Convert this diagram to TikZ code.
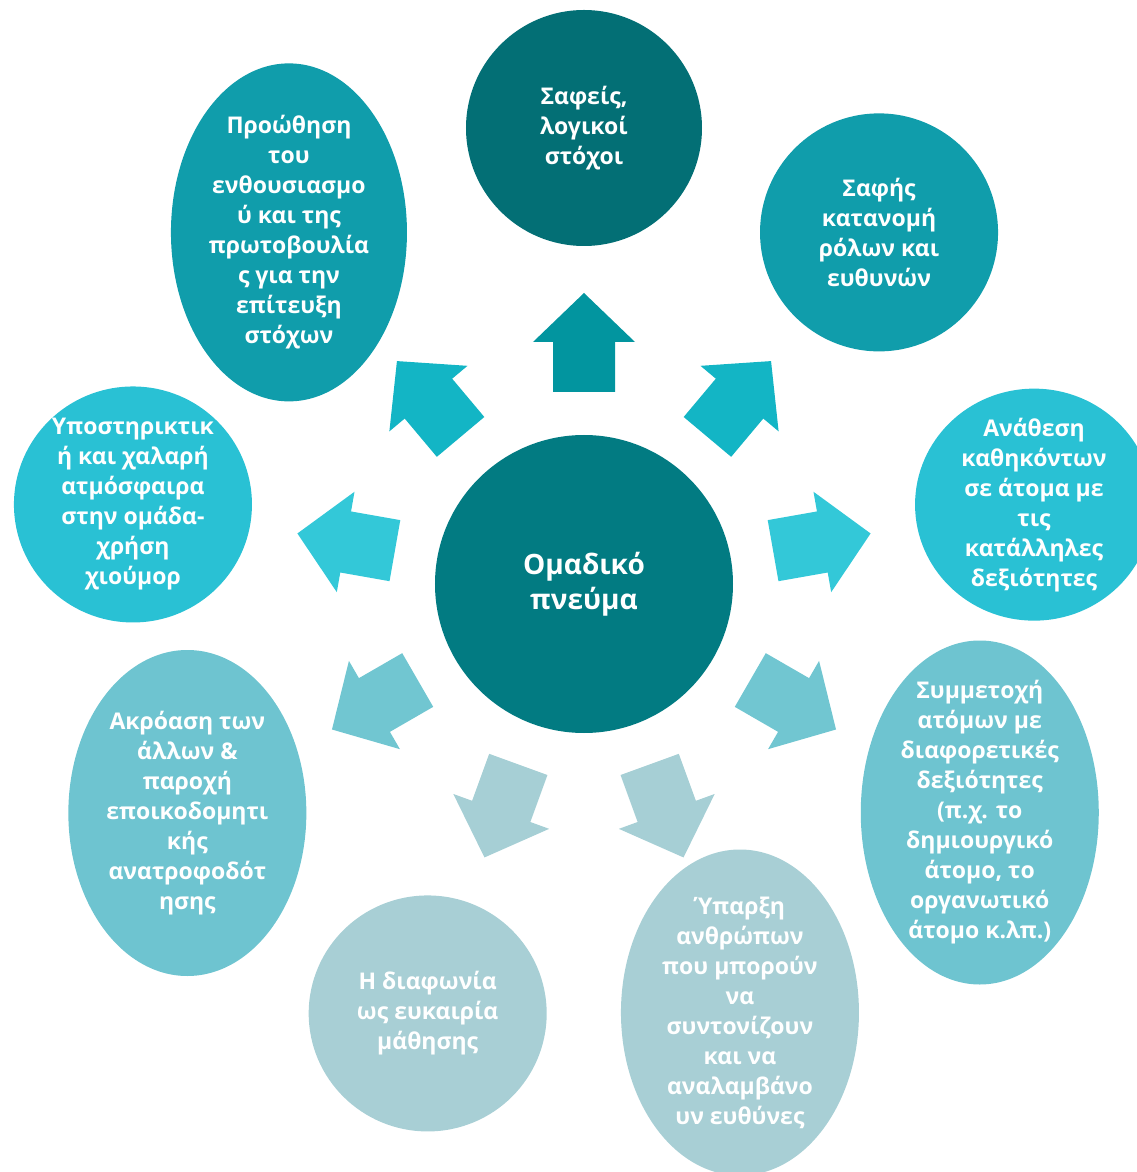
\documentclass[tikz,border=0pt]{standalone}
\usepackage{fontspec}
\setmainfont{Open Sans}
\usepackage{tikz}
\usepackage{xcolor}

\definecolor{coreteal}{HTML}{027B82}
\definecolor{deepteal}{HTML}{036F75}
\definecolor{midteal}{HTML}{109DAB}
\definecolor{brightcyan}{HTML}{29C1D4}
\definecolor{softcyan}{HTML}{6EC4D0}
\definecolor{paleteal}{HTML}{A8CFD5}
\definecolor{arrowtop}{HTML}{02959F}
\definecolor{arrowdiag}{HTML}{13B5C5}
\definecolor{arrowside}{HTML}{33C8D8}
\definecolor{arrowlow}{HTML}{71C6D1}
\definecolor{arrowpale}{HTML}{A6CFD5}

\begin{document}
\begin{tikzpicture}[x=1pt,y=1pt,
	bubbletext/.style={text=white,align=center,font=\bfseries\fontsize{23}{30}\selectfont},
	coretext/.style={text=white,align=center,font=\bfseries\fontsize{28}{35}\selectfont}]
			\useasboundingbox (-584,-588) rectangle (553,584);
			\coordinate (O) at (0,0);
			\coordinate (A) at (90:456);
			\coordinate (B) at (50:459);
			\coordinate (C) at (10:457);
			\coordinate (D) at (-30:457);
			\coordinate (E) at (-70:456);
			\coordinate (F) at (-110:457);
			\coordinate (G) at (-150:458);
			\coordinate (H) at (170:458);
			\coordinate (I) at (130:459);
			
			\fill[coreteal] (O) circle (149);
			\node[coretext] (team) at (O) {Ομαδικό\\πνεύμα};
			
			\fill[arrowtop,rotate=90] (192,31) -- (242,31) -- (242,51) -- (291,0) -- (242,-51) -- (242,-31) -- (192,-31) -- cycle;
			\fill[arrowdiag,rotate=50] (192,31) -- (242,31) -- (242,51) -- (291,0) -- (242,-51) -- (242,-31) -- (192,-31) -- cycle;
			\fill[arrowside,rotate=10] (192,31) -- (242,31) -- (242,51) -- (291,0) -- (242,-51) -- (242,-31) -- (192,-31) -- cycle;
			\fill[arrowlow,rotate=-30] (192,31) -- (242,31) -- (242,51) -- (291,0) -- (242,-51) -- (242,-31) -- (192,-31) -- cycle;
			\fill[arrowpale,rotate=-70] (192,31) -- (242,31) -- (242,51) -- (291,0) -- (242,-51) -- (242,-31) -- (192,-31) -- cycle;
			\fill[arrowpale,rotate=-110] (192,31) -- (242,31) -- (242,51) -- (291,0) -- (242,-51) -- (242,-31) -- (192,-31) -- cycle;
			\fill[arrowlow,rotate=-150] (192,31) -- (242,31) -- (242,51) -- (291,0) -- (242,-51) -- (242,-31) -- (192,-31) -- cycle;
			\fill[arrowside,rotate=170] (192,31) -- (242,31) -- (242,51) -- (291,0) -- (242,-51) -- (242,-31) -- (192,-31) -- cycle;
			\fill[arrowdiag,rotate=130] (192,31) -- (242,31) -- (242,51) -- (291,0) -- (242,-51) -- (242,-31) -- (192,-31) -- cycle;
			
			\fill[deepteal] (A) ellipse [x radius=118, y radius=118];
			\node[bubbletext] (goals) at (A) {Σαφείς,\\λογικοί\\στόχοι};
			
			\fill[midteal] (B) ellipse [x radius=119, y radius=119];
			\node[bubbletext] (roles) at (B) {Σαφής\\κατανομή\\ρόλων και\\ευθυνών};
			
			\fill[brightcyan] (C) ellipse [x radius=119, y radius=116];
			\node[bubbletext] (tasks) at (C) {Ανάθεση\\καθηκόντων\\σε άτομα με\\τις\\κατάλληλες\\δεξιότητες};
			
			\fill[softcyan] (D) ellipse [x radius=119, y radius=172];
			\node[bubbletext] (skills) at (D) {Συμμετοχή\\ατόμων με\\διαφορετικές\\δεξιότητες\\(π.χ. το\\δημιουργικό\\άτομο, το\\οργανωτικό\\άτομο κ.λπ.)};
			
			\fill[paleteal] (E) ellipse [x radius=119, y radius=163];
			\node[bubbletext] (leaders) at (E) {Ύπαρξη\\ανθρώπων\\που μπορούν\\να\\συντονίζουν\\και να\\αναλαμβάνο\\υν ευθύνες};
			
			\fill[paleteal] (F) ellipse [x radius=119, y radius=118];
			\node[bubbletext] (conflict) at (F) {Η διαφωνία\\ως ευκαιρία\\μάθησης};
			
			\fill[softcyan] (G) ellipse [x radius=119, y radius=163];
			\node[bubbletext] (feedback) at (G) {Ακρόαση των\\άλλων \&\\παροχή\\εποικοδομητι\\κής\\ανατροφοδότ\\ησης};
			
			\fill[brightcyan] (H) ellipse [x radius=119, y radius=118];
			\node[bubbletext] (climate) at (H) {Υποστηρικτικ\\ή και χαλαρή\\ατμόσφαιρα\\στην ομάδα-\\χρήση\\χιούμορ};
			
			\fill[midteal] (I) ellipse [x radius=118, y radius=169];
			\node[bubbletext] (drive) at (I) {Προώθηση\\του\\ενθουσιασμο\\ύ και της\\πρωτοβουλία\\ς για την\\επίτευξη\\στόχων};
		\end{tikzpicture}
\end{document}
